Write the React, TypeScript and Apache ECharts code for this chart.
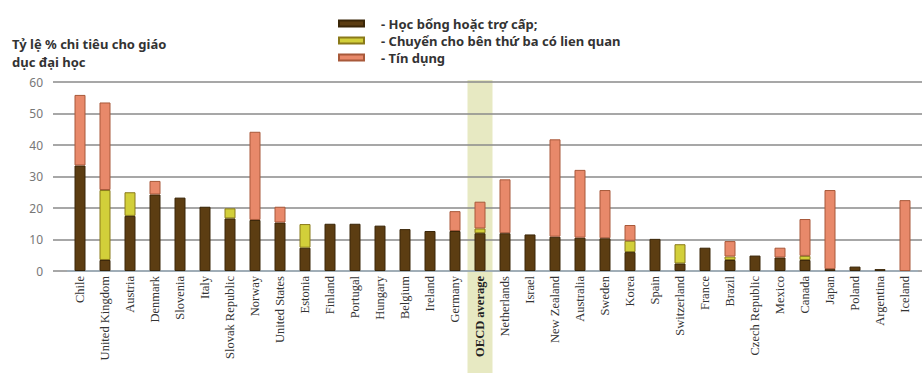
import React, { useEffect, useRef } from "react";
import * as echarts from "echarts";

const categories = [
  "Chile", "United Kingdom", "Austria", "Denmark", "Slovenia", "Italy", "Slovak Republic",
  "Norway", "United States", "Estonia", "Finland", "Portugal", "Hungary", "Belgium",
  "Ireland", "Germany", "OECD average", "Netherlands", "Israel", "New Zealand", "Australia",
  "Sweden", "Korea", "Spain", "Switzerland", "France", "Brazil", "Czech Republic",
  "Mexico", "Canada", "Japan", "Poland", "Argentina", "Iceland",
];

const scholarships = [33.5, 3.5, 17.5, 24.3, 23.3, 20.4, 16.7, 16.2, 15.4, 7.4, 15, 15, 14.4, 13.3,
  12.7, 12.7, 12, 12, 11.6, 10.9, 10.6, 10.4, 6, 10.2, 2.4, 7.4, 3.5, 4.9, 4.3, 3.5, 0.6, 1.4, 0.6, 0];
const transfers = [0, 22.2, 7.5, 0, 0, 0, 3.2, 0, 0, 7.5, 0, 0, 0, 0,
  0, 0, 1.5, 0, 0, 0, 0, 0, 3.6, 0, 6.1, 0, 1.1, 0, 0, 1.3, 0, 0, 0, 0];
const loans = [22.4, 27.8, 0, 4.3, 0, 0, 0, 28, 5, 0, 0, 0, 0, 0,
  0, 6.3, 8.5, 17.1, 0, 30.9, 21.5, 15.3, 5, 0, 0, 0, 4.9, 0, 3.1, 11.7, 25.1, 0, 0, 22.5];

const yTicks = [0, 10, 20, 30, 40, 50, 60];
const seriesNames = [
  "- Học bổng hoặc trợ cấp;",
  "- Chuyển cho bên thứ ba có lien quan",
  "- Tín dụng",
];
const yTitleLine1 = "Tỷ lệ % chi tiêu cho giáo";
const yTitleLine2 = "dục đại học";
const highlight = "OECD average";

const nz = (a: number[]) => a.map((v) => (v === 0 ? null : v));

export default function App() {
  const ref = useRef<HTMLDivElement>(null);
  useEffect(() => {
    if (!ref.current) return;
    const chart = echarts.init(ref.current, undefined, { renderer: "svg" });
    const gridTop = 82;
    const gridBottom = 102;
    const sansBold = { fontFamily: "Noto Sans", fontWeight: "bold" as const, fontSize: 13, color: "#333" };
    const mk = (name: string, data: number[], color: string, border: string) => ({
      name,
      type: "bar" as const,
      stack: "total",
      xAxisIndex: 1,
      yAxisIndex: 1,
      barWidth: 11,
      data: nz(data),
      itemStyle: { color, borderColor: border, borderWidth: 1 },
      z: 3,
    });
    chart.setOption({
      animation: false,
      title: {
        text: yTitleLine1,
        subtext: yTitleLine2,
        left: 12,
        top: 37,
        padding: 0,
        itemGap: 4,
        textStyle: { ...sansBold, lineHeight: 14 },
        subtextStyle: { ...sansBold, lineHeight: 14 },
      },
      legend: {
        orient: "vertical",
        left: 333,
        top: 12,
        itemWidth: 25,
        itemHeight: 6,
        itemGap: 4,
        icon: "rect",
        textStyle: { ...sansBold, padding: [0, 0, 0, 12] },
        data: seriesNames,
      },
      grid: [
        { left: 53, right: 0, top: gridTop, bottom: gridBottom },
        { left: 67.5, right: 4.5, top: gridTop, bottom: gridBottom },
      ],
      xAxis: [
        { type: "category", gridIndex: 0, data: categories, show: false },
        {
          type: "category",
          gridIndex: 1,
          data: categories,
          axisLine: { show: true, lineStyle: { color: "#9fb0bd", width: 1.5 } },
          axisTick: { show: false },
          axisLabel: {
            rotate: 90,
            interval: 0,
            margin: 5,
            fontFamily: "Liberation Serif",
            fontSize: 12.5,
            color: "#333",
            formatter: (v: string) => (v === highlight ? `{b|${v}}` : v),
            rich: { b: { fontWeight: "bold", fontFamily: "Liberation Serif", fontSize: 12.5, color: "#222" } },
          },
        },
      ],
      yAxis: [
        {
          type: "value",
          gridIndex: 0,
          min: yTicks[0],
          max: yTicks[yTicks.length - 1],
          interval: 10,
          axisLine: { show: false },
          axisTick: { show: false },
          axisLabel: { margin: 10, fontFamily: "Noto Sans", fontSize: 12, color: "#777" },
          splitLine: { show: true, lineStyle: { color: "#8a8a8a", width: 1.5 } },
        },
        {
          type: "value",
          gridIndex: 1,
          min: yTicks[0],
          max: yTicks[yTicks.length - 1],
          interval: 10,
          show: false,
          splitLine: { show: false },
        },
      ],
      series: [
        mk(seriesNames[0], scholarships, "#5c3d12", "#3a2608"),
        mk(seriesNames[1], transfers, "#d2cf3a", "#8a7a1a"),
        mk(seriesNames[2], loans, "#e8896a", "#a8593a"),
      ],
    });
    const idx = categories.indexOf(highlight);
    const cx = chart.convertToPixel({ xAxisIndex: 1 }, highlight) as number;
    const cx2 = chart.convertToPixel({ xAxisIndex: 1 }, categories[idx + 1]) as number;
    const w = Math.abs(cx2 - cx);
    const yTop = chart.convertToPixel({ yAxisIndex: 1 }, yTicks[yTicks.length - 1]) as number;
    chart.setOption({
      graphic: [
        {
          type: "rect",
          z: -1,
          silent: true,
          shape: { x: cx - w / 2, y: yTop - 2, width: w, height: chart.getHeight() - yTop + 2 },
          style: { fill: "#e7e9c2" },
        },
      ],
    });
    return () => chart.dispose();
  }, []);
  return (
    <div
      ref={ref}
      style={{ position: "absolute", left: 0, top: 0, width: 922, height: 373, background: "#fff" }}
    />
  );
}
